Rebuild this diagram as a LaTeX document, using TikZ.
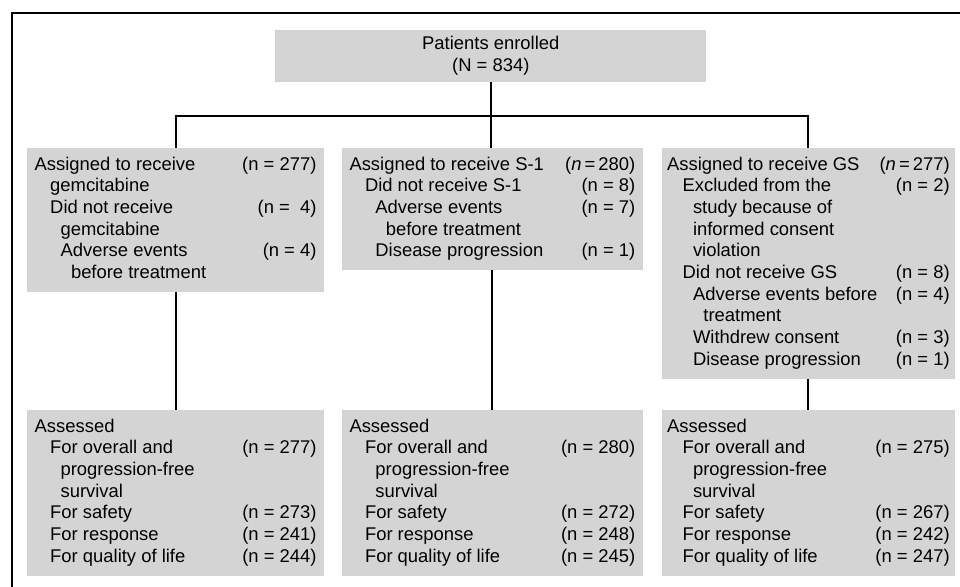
\documentclass[tikz,border=0pt]{standalone}
\usepackage{fontspec}
\setmainfont{Liberation Sans}
\usepackage{tikz}
\usetikzlibrary{positioning,calc}
\tikzset{flowbox/.style={fill=black!17, inner xsep=0.19cm, inner ysep=0.175cm, outer sep=0pt, anchor=north, align=left, font=\fontsize{13.1}{15.4}\selectfont}}
\tikzset{conn/.style={draw, line width=1.4pt}}
\tikzset{frameline/.style={draw, line width=1pt}}
\newcommand\ind[1]{\hspace*{#1\dimexpr0.26cm\relax}}
\newcommand\ntab[2]{\begin{tabular*}{#1}{@{}l@{\extracolsep{\fill}}r@{}}#2\end{tabular*}}

\begin{document}
\begin{tikzpicture}
			\useasboundingbox (0,0) rectangle (24,-14.675);
			\draw[frameline] (24,-0.33) -- (0.3,-0.33) -- (0.3,-14.675);

			\node[flowbox, align=center, minimum width=10.775cm, anchor=center] (enrol) at (12.27,-1.4) {Patients enrolled\\(N = 834)};

			\node[flowbox] (gem) at (4.39,-3.7) {\ntab{7.045cm}{%
				Assigned to receive & (n = 277)\\
				\ind1 gemcitabine & \\
				\ind1 Did not receive & (n =\ \ 4)\\
				\ind2 gemcitabine & \\
				\ind2 Adverse events & (n = 4)\\
				\ind3 before treatment & }};
			\node[flowbox] (sone) at (12.31,-3.7) {\ntab{7.145cm}{%
				Assigned to receive S-1 & (\textit{n}\,=\,280)\\
				\ind1 Did not receive S-1 & (n = 8)\\
				\ind2 Adverse events & (n = 7)\\
				\ind3 before treatment & \\
				\ind2 Disease progression & (n = 1)}};
			\node[flowbox, inner xsep=0.13cm] (gs) at (20.21,-3.7) {\ntab{7.065cm}{%
				Assigned to receive GS & (\textit{n}\,=\,277)\\
				\ind1 Excluded from the & (n = 2)\\
				\ind2 study because of & \\
				\ind2 informed consent & \\
				\ind2 violation & \\
				\ind1 Did not receive GS & (n = 8)\\
				\ind2 Adverse events before & (n = 4)\\
				\ind3 treatment & \\
				\ind2 Withdrew consent & (n = 3)\\
				\ind2 Disease progression & (n = 1)}};

			\node[flowbox] (agem) at (4.39,-10.25) {\ntab{7.045cm}{%
				Assessed & \\
				\ind1 For overall and & (n = 277)\\
				\ind2 progression-free & \\
				\ind2 survival & \\
				\ind1 For safety & (n = 273)\\
				\ind1 For response & (n = 241)\\
				\ind1 For quality of life & (n = 244)}};
			\node[flowbox] (asone) at (12.31,-10.25) {\ntab{7.145cm}{%
				Assessed & \\
				\ind1 For overall and & (n = 280)\\
				\ind2 progression-free & \\
				\ind2 survival & \\
				\ind1 For safety & (n = 272)\\
				\ind1 For response & (n = 248)\\
				\ind1 For quality of life & (n = 245)}};
			\node[flowbox, inner xsep=0.13cm] (ags) at (20.21,-10.25) {\ntab{7.065cm}{%
				Assessed & \\
				\ind1 For overall and & (n = 275)\\
				\ind2 progression-free & \\
				\ind2 survival & \\
				\ind1 For safety & (n = 267)\\
				\ind1 For response & (n = 242)\\
				\ind1 For quality of life & (n = 247)}};

%			split line under the enrolment box
			\coordinate (bar) at (0,-2.9);
			\draw[conn] (enrol.south) -- (enrol.south |- sone.north);
			\draw[conn] (gem.north) -- (gem.north |- bar) -- (gs.north |- bar) -- (gs.north);

			\draw[conn] (gem) -- (agem);
			\draw[conn] (sone) -- (asone);
			\draw[conn] (gs) -- (ags);
		\end{tikzpicture}
\end{document}
